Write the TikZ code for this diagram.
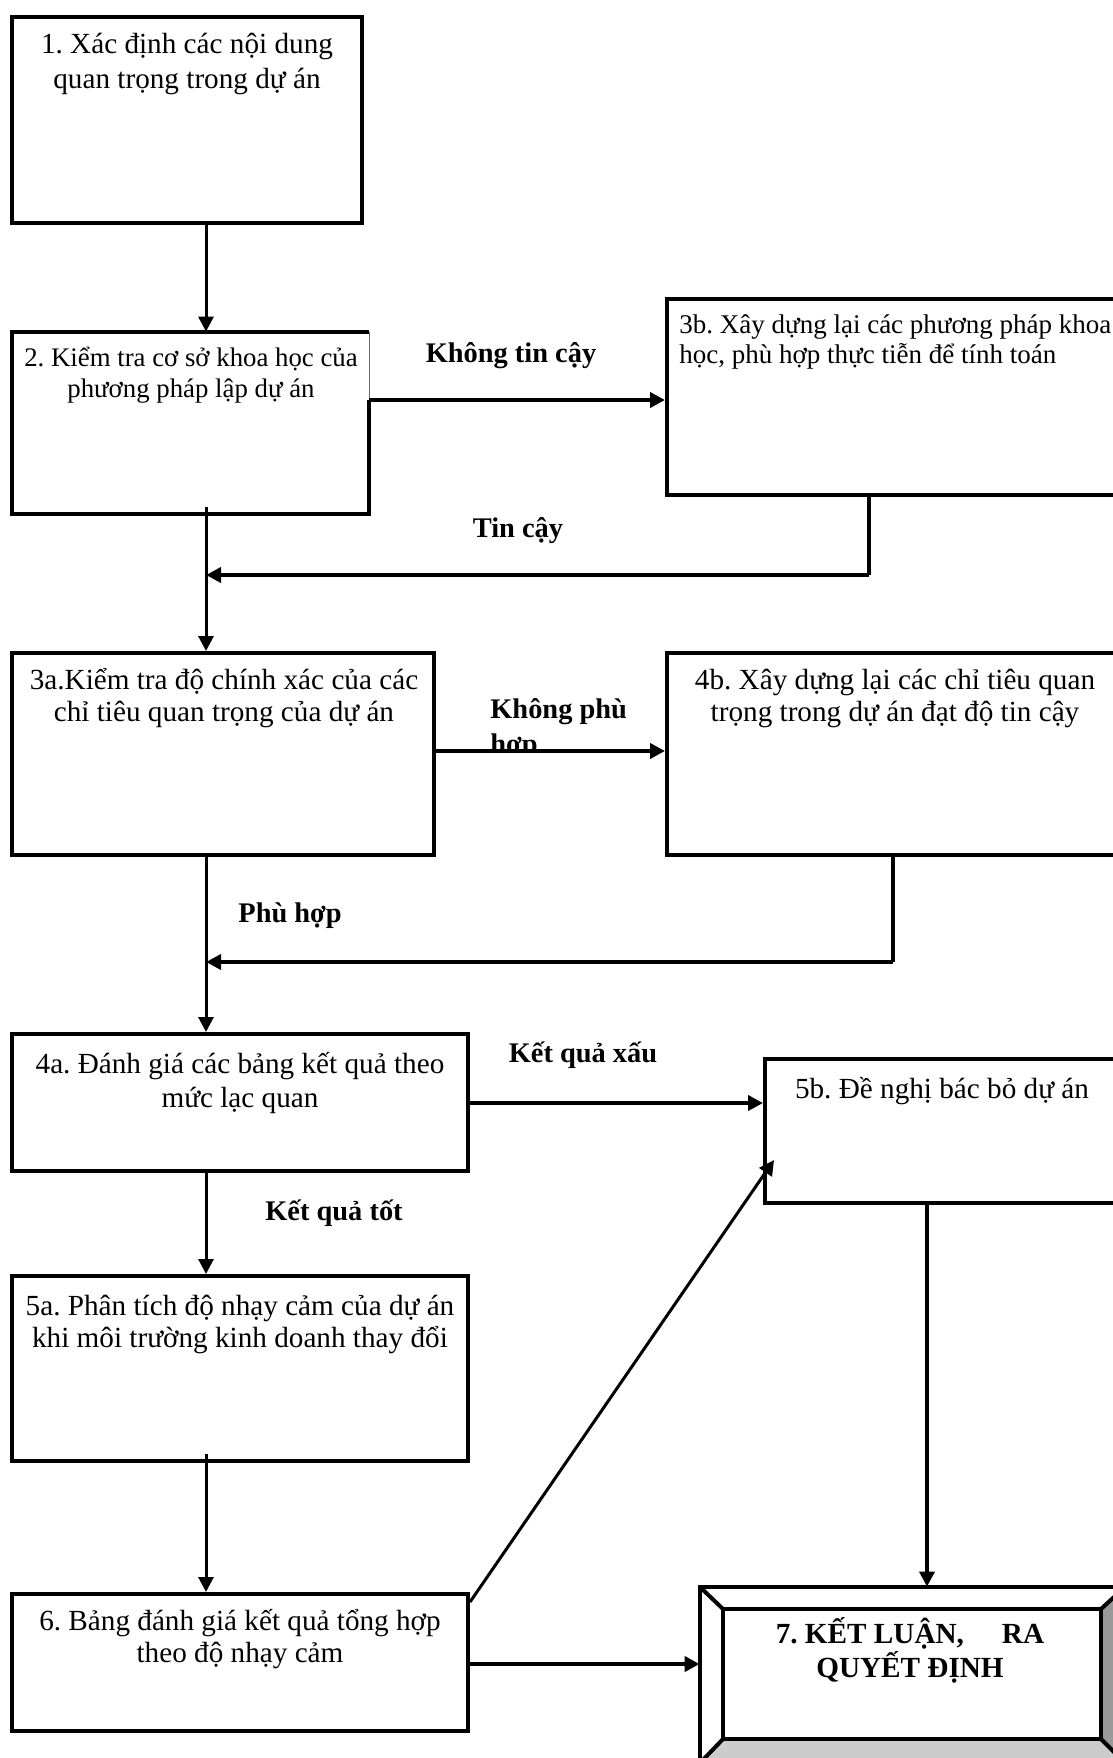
\documentclass[tikz,border=0pt]{standalone}
\usepackage{fontspec}
\setmainfont{Liberation Serif}
\usetikzlibrary{arrows.meta,fit}
\frenchspacing
% centred / left-aligned multi-line text whose baseline is the first line
\newcommand{\ctext}[1]{\parbox[t]{300pt}{\centering #1}}
\newcommand{\ltext}[1]{\parbox[t]{300pt}{\raggedright #1}}
\begin{document}
\begin{tikzpicture}[x=0.5pt,y=-0.5pt,
  box/.style={draw, line width=2pt, inner sep=0pt},
  frame/.style={inner sep=0pt},
  txt/.style={anchor=base, inner sep=0pt, font=\fontsize{14.6pt}{16pt}\selectfont},
  lbl/.style={anchor=base, inner sep=0pt, font=\fontsize{14.2pt}{17pt}\selectfont\bfseries},
  varr/.style={line width=1.5pt, -{Triangle[length=7.5pt,width=7.5pt]}},
  harr/.style={line width=2.2pt, -{Triangle[length=7.5pt,width=7.5pt]}},
  hline/.style={line width=2.2pt},
  vline/.style={line width=1.5pt}]
\useasboundingbox (0,0) rectangle (1113,1758);
\fill[white] (0,0) rectangle (1113,1758);
\clip (0,0) rectangle (1113,1758);

% ---------- boxes ----------
\node[box, fit={(12,17) (362,223)}] (b1) {};
\node[frame, fit={(12,332) (369,514)}] (b2) {};
\node[box, fit={(667,299) (1125,495)}] (b3b) {};
\node[box, fit={(12,653) (434,855)}] (b3a) {};
\node[box, fit={(667,653) (1125,855)}] (b4b) {};
\node[box, fit={(12,1034) (468,1171)}] (b4a) {};
\node[box, fit={(765,1059) (1125,1203)}] (b5b) {};
\node[box, fit={(12,1276) (468,1461)}] (b5a) {};
\node[box, fit={(12,1594) (468,1731)}] (b6) {};

% helper coordinates for connector positions
\coordinate (vx) at (206,0);
\coordinate (k2) at (0,400);
\coordinate (k3) at (0,751);
\coordinate (k4) at (0,1103);
\coordinate (k6) at (0,1664);
\coordinate (tc) at (869,575);
\coordinate (ph) at (893,962);
\coordinate (s2) at (206,507);
\coordinate (s5) at (206,1454);
\coordinate (d6) at (470,1602);
\coordinate (d5) at (774,1160);
\coordinate (x7) at (927,0);

% box 2: right edge is thin above the outgoing arrow
\draw[line width=2pt] (b2.east |- k2) -- (b2.south east) -- (b2.south west)
  -- (b2.north west) -- (b2.north east);
\draw[line width=0.6pt, black!60] (b2.north east) -- (b2.east |- k2);

% box 7 with bevelled frame
\node[frame, fit={(700,1587) (1125,1763)}] (b7) {};
\node[frame, fit={(723,1609) (1101,1739)}] (b7in) {};
\fill[black!40] (b7in.north east) -- (b7.north east) -- (b7.south east) -- (b7in.south east) -- cycle;
\fill[black!20] (b7in.south west) -- (b7in.south east) -- (b7.south east) -- (b7.south west) -- cycle;
\draw[line width=2pt] (b7.south west) rectangle (b7.north east);
\draw[line width=2pt] (b7in.south west) rectangle (b7in.north east);
\draw[line width=2pt] (b7.north west) -- (b7in.north west)
  (b7.north east) -- (b7in.north east)
  (b7.south west) -- (b7in.south west)
  (b7.south east) -- (b7in.south east);

% ---------- texts ----------
\node[txt, font=\fontsize{14.6pt}{17.5pt}\selectfont] at (187,53)
  {\ctext{1. Xác định các nội dung\\quan trọng trong dự án}};
\node[txt, font=\fontsize{13.4pt}{15.5pt}\selectfont] at (191,366)
  {\ctext{2. Kiểm tra cơ sở khoa học của\\phương pháp lập dự án}};
\node[txt, anchor=base west, font=\fontsize{13.5pt}{15pt}\selectfont] at (679,333)
  {\ltext{3b. Xây dựng lại các phương pháp khoa\\học, phù hợp thực tiễn để tính toán}};
\node[txt] at (224,689)
  {\ctext{3a.Kiểm tra độ chính xác của các\\chỉ tiêu quan trọng của dự án}};
\node[txt] at (895,689)
  {\ctext{4b. Xây dựng lại các chỉ tiêu quan\\trọng trong dự án đạt độ tin cậy}};
\node[txt, font=\fontsize{14.6pt}{17pt}\selectfont] at (240,1073)
  {\ctext{4a. Đánh giá các bảng kết quả theo\\mức lạc quan}};
\node[txt] at (942,1098) {5b. Đề nghị bác bỏ dự án};
\node[txt] at (240,1315)
  {\ctext{5a. Phân tích độ nhạy cảm của dự án\\khi môi trường kinh doanh thay đổi}};
\node[txt] at (240,1630)
  {\ctext{6. Bảng đánh giá kết quả tổng hợp\\theo độ nhạy cảm}};
\node[txt, font=\fontsize{14.6pt}{17pt}\selectfont\bfseries] at (910,1643)
  {\ctext{7. KẾT LUẬN,\hspace{19pt}RA\\QUYẾT ĐỊNH}};

% ---------- connector labels ----------
\node[lbl] (l1) at (511,362) {Không tin cậy};
\node[lbl] (l2) at (518,537) {Tin cậy};
\node[lbl, anchor=base west] (l3) at (490,718) {Không phù};
\begin{scope}
  \clip (480,700) rectangle (600,750);
  \node[lbl, anchor=base west] (l3b) at (490,753) {hợp};
\end{scope}
\node[lbl, anchor=base west] (l4) at (238,922) {Phù hợp};
\node[lbl] (l5) at (583,1062) {Kết quả xấu};
\node[lbl, anchor=base west] (l6) at (265,1220) {Kết quả tốt};

% ---------- connectors ----------
\draw[varr] (b1.south -| vx) -- (b2.north -| vx);
\draw[harr] (b2.east |- k2) -- (b3b.west |- k2);
\draw[hline] (b3b.south -| tc) -- (tc);
\draw[harr] (tc) -- (tc -| vx);
\draw[varr] (s2) -- (b3a.north -| vx);
\draw[harr] (b3a.east |- k3) -- (b4b.west |- k3);
\draw[hline] (b4b.south -| ph) -- (ph);
\draw[harr] (ph) -- (ph -| vx);
\draw[varr] (b3a.south -| vx) -- (b4a.north -| vx);
\draw[harr] (b4a.east |- k4) -- (b5b.west |- k4);
\draw[varr] (b4a.south -| vx) -- (b5a.north -| vx);
\draw[varr] (s5) -- (b6.north -| vx);
\draw[varr] (d6) -- (d5);
\draw[harr] (b6.east |- k6) -- (b7.west |- k6);
\draw[harr] (b5b.south -| x7) -- (b7.north -| x7);
\end{tikzpicture}
\end{document}
